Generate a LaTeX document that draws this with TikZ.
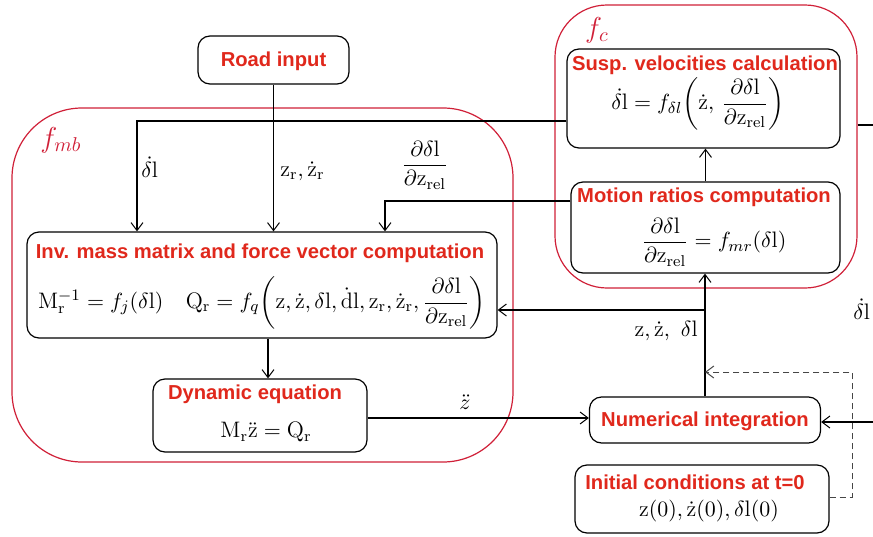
\documentclass[tikz,border=0pt]{standalone}
\usepackage{fontspec}
\usepackage{amsmath}
\newfontfamily\titlefont{Liberation Sans}
\usetikzlibrary{arrows.meta}
\definecolor{titlered}{RGB}{224,40,28}
\definecolor{framered}{RGB}{208,32,56}
\definecolor{dashgray}{RGB}{70,70,70}
\tikzset{
  box/.style={draw=black, line width=0.6pt, rounded corners=6pt, inner sep=0pt},
  frame/.style={draw=framered, line width=0.6pt, inner sep=0pt},
  ttl/.style={text=titlered, font=\titlefont\bfseries\fontsize{10.1}{12}\selectfont, inner sep=0pt},
  frm/.style={inner sep=0pt, font=\fontsize{11.2}{13}\selectfont},
  conn/.style={line width=0.6pt},
  arr/.style={conn, -{Straight Barb[length=4pt,width=6pt,line width=0.5pt]}},
  dasharr/.style={arr, draw=dashgray, line width=0.5pt, dash pattern=on 3pt off 2pt},
}
\newcommand{\rr}[1]{\mathrm{#1}}
\newcommand{\pdf}{\dfrac{\partial\delta\rr{l}}{\partial\rr{z}_{\rr{rel}}}}
\begin{document}
\begin{tikzpicture}[x=0.5pt,y=-0.5pt]
\clip (0,0) rectangle (873,536);
% frames
\node[frame, rounded corners=35pt, minimum width=250.5pt, minimum height=177pt] (fmb) at (262.5,285) {};
\node[frame, rounded corners=26pt, minimum width=151pt, minimum height=141.5pt] (fc) at (706,146.5) {};
\node[text=framered, inner sep=0pt, font=\Large] (fmblbl) at (61,140) {$f_{mb}$};
\node[text=framered, inner sep=0pt, font=\Large] (fclbl) at (597,30) {$f_c$};
% boxes
\node[box, minimum width=75.5pt, minimum height=24pt] (road) at (273.5,60) {};
\node[ttl] (roadt) at (273.5,61) {Road input};
\node[box, minimum width=136.5pt, minimum height=49.5pt] (susp) at (703.5,98.5) {};
\node[ttl] (suspt) at (705,65) {Susp. velocities calculation};
\node[frm] (suspf) at (698,104) {$\dot{\delta\rr{l}} = f_{\delta l}\!\left(\dot{\rr{z}},\, \pdf\right)$};
\node[box, minimum width=134.5pt, minimum height=45.5pt] (motion) at (705.5,227.5) {};
\node[ttl] (motiont) at (704,197) {Motion ratios computation};
\node[frm] (motionf) at (714,242) {$\pdf = f_{mr}(\delta\rr{l})$};
\node[box, minimum width=235pt, minimum height=53pt] (inv) at (262,285) {};
\node[ttl] (invt) at (260,253) {Inv. mass matrix and force vector computation};
\node[frm] (invf) at (262,303) {$\rr{M}_\rr{r}^{-1} = f_j(\delta\rr{l})\quad \rr{Q}_\rr{r} = f_q\!\left(\rr{z},\dot{\rr{z}},\delta\rr{l},\dot{\rr{d}}\rr{l},\rr{z}_\rr{r},\dot{\rr{z}}_\rr{r},\pdf\right)$};
\node[box, minimum width=107pt, minimum height=36.5pt] (dyn) at (260,415.5) {};
\node[ttl] (dynt) at (255,394) {Dynamic equation};
\node[frm] (dynf) at (266,432) {$\rr{M}_\rr{r}\ddot{\rr{z}} = \rr{Q}_\rr{r}$};
\node[box, minimum width=115.5pt, minimum height=23pt] (numint) at (705,420) {};
\node[ttl] (numintt) at (705,421) {Numerical integration};
\node[box, minimum width=127pt, minimum height=34pt] (init) at (702,499) {};
\node[ttl] (initt) at (695,482) {Initial conditions at t=0};
\node[frm] (initf) at (709,511) {$\rr{z}(0), \dot{\rr{z}}(0), \delta\rr{l}(0)$};
% coordinates
\coordinate (dlc) at (137,121);
\coordinate (pdc) at (385,201);
\coordinate (br) at (705,310);
\coordinate (dsh) at (852,372);
\coordinate (rtop) at (890,125);
\coordinate (rbot) at (890,422);
% connectors
\draw[arr] (road.south) -- (inv.north -| road.south);
\draw[arr] (susp.west |- dlc) -- (dlc) -- (inv.north -| dlc);
\draw[arr] (motion.west |- pdc) -- (pdc) -- (inv.north -| pdc);
\draw[arr] (motion.north) -- (susp.south -| motion.north);
\draw[arr] (numint.north) -- (motion.south -| numint.north);
\draw[arr] (numint.north |- br) -- (inv.east |- br);
\draw[arr] (inv.south -| 268,0) -- (dyn.north -| 268,0);
\draw[arr] (dyn.east |- 0,418) -- (numint.west |- 0,418);
\draw[arr] (fc.east |- rtop) -- (rtop) -- (rbot) -- (numint.east |- rbot);
\draw[dasharr] (init.east |- 0,497) -| (dsh) -- (numint.north |- dsh);
% labels
\node[frm, anchor=west] (l1) at (141,167) {$\dot{\delta\rr{l}}$};
\node[frm, anchor=west] (l2) at (280,171) {$\rr{z}_\rr{r}, \dot{\rr{z}}_\rr{r}$};
\node[frm] (l3) at (425,165) {$\pdf$};
\node[frm] (l4) at (465,402) {$\ddot{z}$};
\node[frm, anchor=east] (l5) at (698,331) {$\rr{z}, \dot{\rr{z}},\ \delta\rr{l}$};
\node[frm, anchor=west] (l6) at (853,309) {$\dot{\delta\rr{l}}$};
\end{tikzpicture}
\end{document}
